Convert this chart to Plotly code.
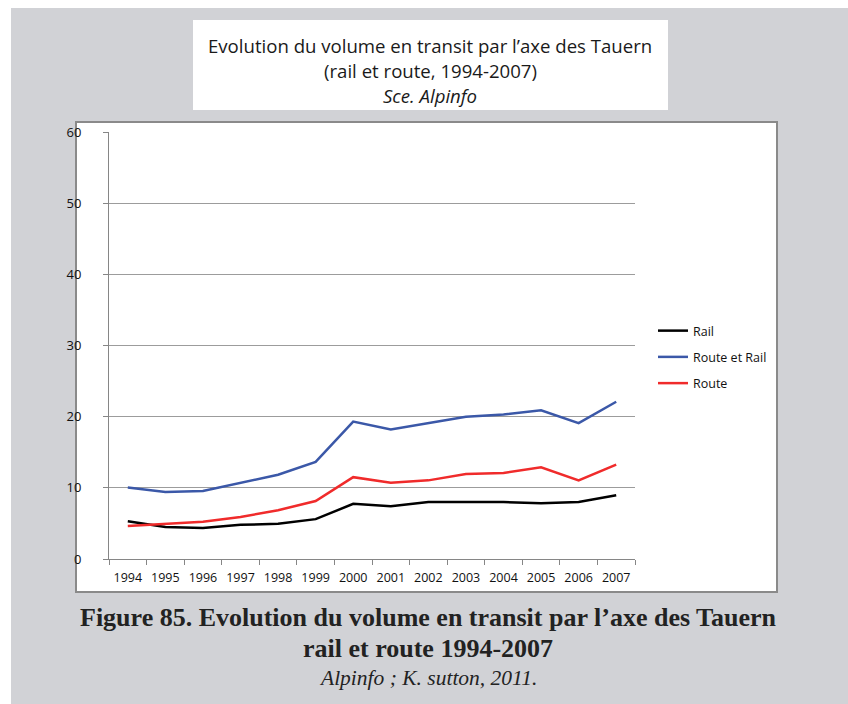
import plotly.graph_objects as go

years = ["1994", "1995", "1996", "1997", "1998", "1999", "2000",
         "2001", "2002", "2003", "2004", "2005", "2006", "2007"]
rail = [5.3, 4.5, 4.35, 4.8, 4.95, 5.6, 7.75, 7.4, 8.0, 8.0, 8.0, 7.85, 8.0, 8.95]
route_et_rail = [10.05, 9.4, 9.55, 10.65, 11.85, 13.65, 19.3, 18.2, 19.1, 20.0, 20.3, 20.9, 19.1, 22.1]
route = [4.65, 4.95, 5.25, 5.9, 6.85, 8.15, 11.5, 10.7, 11.05, 11.95, 12.1, 12.9, 11.05, 13.25]

# plot area in pixels: x 109..635, y 132..559
L, R, T, B = 109, 213, 132, 145
W, H = 848, 704
PW, PH = W - L - R, H - T - B


def px(x):
    return (x - L) / PW


def py(y):
    return (H - B - y) / PH


grey_bg = "#d1d2d6"
axis_grey = "#868686"
grid_grey = "#9c9c9c"

fig = go.Figure()
series = [
    ("Rail", rail, "#000000"),
    ("Route et Rail", route_et_rail, "#3b58a8"),
    ("Route", route, "#f02b2b"),
]
for name, values, color in series:
    fig.add_trace(go.Scatter(
        x=years, y=values, mode="lines", name=name, legendgroup=name,
        line=dict(color=color, width=2.5),
    ))

shapes = [
    # white page strips
    dict(type="rect", xref="paper", yref="paper", x0=px(0), x1=px(11), y0=py(704), y1=py(0),
         fillcolor="white", line_width=0, layer="below"),
    dict(type="rect", xref="paper", yref="paper", x0=px(0), x1=px(848), y0=py(8), y1=py(0),
         fillcolor="white", line_width=0, layer="below"),
    # title box
    dict(type="rect", xref="paper", yref="paper", x0=px(193), x1=px(668), y0=py(110), y1=py(20),
         fillcolor="white", line_width=0, layer="below"),
    # chart box
    dict(type="rect", xref="paper", yref="paper", x0=px(76), x1=px(777), y0=py(592), y1=py(122),
         fillcolor="white", line=dict(color="#8a8a8a", width=2), layer="below"),
]

title_font = "'Open Sans', sans-serif"
serif = "'Liberation Serif', 'DejaVu Serif', serif"
annotations = [
    dict(text="Evolution du volume en transit par l’axe des Tauern", x=px(430), y=py(45),
         font=dict(family=title_font, size=18.6, color="#1a1a1a")),
    dict(text="(rail et route, 1994-2007)", x=px(430), y=py(70),
         font=dict(family=title_font, size=18.6, color="#1a1a1a")),
    dict(text="<i>Sce. Alpinfo</i>", x=px(430), y=py(96),
         font=dict(family=title_font, size=18.6, color="#1a1a1a")),
    dict(text="<b>Figure 85. Evolution du volume en transit par l’axe des Tauern</b>", x=px(428), y=py(617),
         font=dict(family=serif, size=26, color="#222222")),
    dict(text="<b>rail et route 1994-2007</b>", x=px(428), y=py(648),
         font=dict(family=serif, size=26, color="#222222")),
    dict(text="<i>Alpinfo ; K. sutton, 2011.</i>", x=px(428), y=py(678),
         font=dict(family=serif, size=21.5, color="#222222")),
]
for a in annotations:
    a.update(xref="paper", yref="paper", showarrow=False, xanchor="center", yanchor="middle")

fig.update_layout(
    width=W, height=H,
    margin=dict(l=L, r=R, t=T, b=B, autoexpand=False),
    paper_bgcolor=grey_bg,
    plot_bgcolor="white",
    shapes=shapes,
    annotations=annotations,
    font=dict(family="'Open Sans', sans-serif", size=13, color="#111111"),
    legend=dict(
        x=px(653), y=py(316), xanchor="left", yanchor="top",
        bgcolor="rgba(0,0,0,0)", traceorder="grouped", tracegroupgap=7,
        font=dict(size=12.5), itemwidth=30,
    ),
)
fig.update_xaxes(
    type="category", range=[-0.5, len(years) - 0.5], showgrid=False, zeroline=False,
    showline=True, linecolor=axis_grey, linewidth=1,
    ticks="outside", tickson="boundaries", ticklen=5, tickcolor=axis_grey,
    ticklabelstandoff=7, tickangle=0, tickfont=dict(size=12.5),
)
fig.update_yaxes(
    range=[0, 60], dtick=10, showgrid=True, gridcolor=grid_grey, gridwidth=1,
    zeroline=False, showline=True, linecolor=axis_grey, linewidth=1,
    ticks="outside", ticklen=5, tickcolor=axis_grey, ticklabelstandoff=19,
)

fig.write_html(
    "out.html",
    config={"displayModeBar": False},
    post_script="document.body.style.margin='0';document.body.style.overflow='hidden';",
)
